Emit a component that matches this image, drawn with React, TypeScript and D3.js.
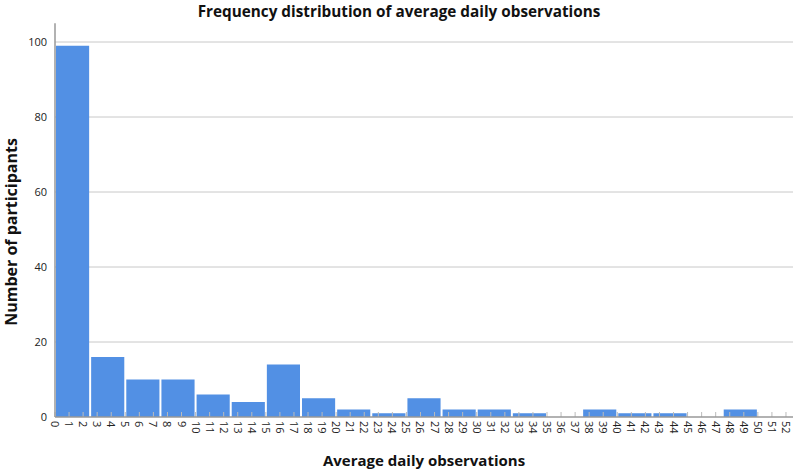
import React from "react";
import * as d3 from "d3";

const binStarts = [0, 2.5, 5, 7.5, 10, 12.5, 15, 17.5, 20, 22.5, 25, 27.5, 30, 32.5, 35, 37.5, 40, 42.5, 45, 47.5, 50];
const counts = [99, 16, 10, 10, 6, 4, 14, 5, 2, 1, 5, 2, 2, 1, 0, 2, 1, 1, 0, 2, 0];
const binWidth = 2.5;
const xTicks = d3.range(0, 53);
const yTicks = [0, 20, 40, 60, 80, 100];

const W = 800;
const H = 474;
const FONT = "'Open Sans', 'Liberation Sans', sans-serif";

export default function App() {
  const x = d3.scaleLinear().domain([0, 52.5]).range([55, 793]);
  const y = d3.scaleLinear().domain([0, 105]).range([417, 23.25]);
  return (
    <svg width={W} height={H} style={{ position: "absolute", left: 0, top: 0, background: "#fff" }}>
      <text x={399} y={17} textAnchor="middle" fontFamily={FONT} fontWeight="bold" fontSize={15.3} fill="#111">
        Frequency distribution of average daily observations
      </text>
      {yTicks.filter((t) => t > 0).map((t) => (
        <line key={t} x1={x(0)} x2={x(52.5)} y1={y(t)} y2={y(t)} stroke="#c8c8c8" strokeWidth={1} />
      ))}
      {binStarts.map((s, i) =>
        counts[i] > 0 ? (
          <rect
            key={s}
            x={x(s) + 1}
            y={y(counts[i])}
            width={x(s + binWidth) - x(s) - 2}
            height={y(0) - y(counts[i])}
            fill="#5290e4"
          />
        ) : null
      )}
      {xTicks.map((t) => (
        <line key={t} x1={x(t)} x2={x(t)} y1={y(0)} y2={y(0) - 5} stroke="#bbbbbb" strokeWidth={1} />
      ))}
      <line x1={x(0)} x2={x(52.5)} y1={y(0)} y2={y(0)} stroke="#999" strokeWidth={1.5} />
      <line x1={x(0)} x2={x(0)} y1={y(0)} y2={y(105)} stroke="#999" strokeWidth={1.5} />
      {yTicks.map((t) => (
        <text key={t} x={x(0) - 8} y={y(t) + 4} textAnchor="end" fontFamily={FONT} fontSize={11} fill="#222">
          {t}
        </text>
      ))}
      {xTicks.map((t) => (
        <text
          key={t}
          transform={`translate(${x(t) - 4},${y(0) + 4}) rotate(90)`}
          textAnchor="start"
          fontFamily={FONT}
          fontSize={11}
          fill="#222"
        >
          {t}
        </text>
      ))}
      <text x={424} y={466} textAnchor="middle" fontFamily={FONT} fontWeight="bold" fontSize={15} fill="#111">
        Average daily observations
      </text>
      <text
        transform={`translate(17,${232}) rotate(-90)`}
        textAnchor="middle"
        fontFamily={FONT}
        fontWeight="bold"
        fontSize={16}
        fill="#111"
      >
        Number of participants
      </text>
    </svg>
  );
}
